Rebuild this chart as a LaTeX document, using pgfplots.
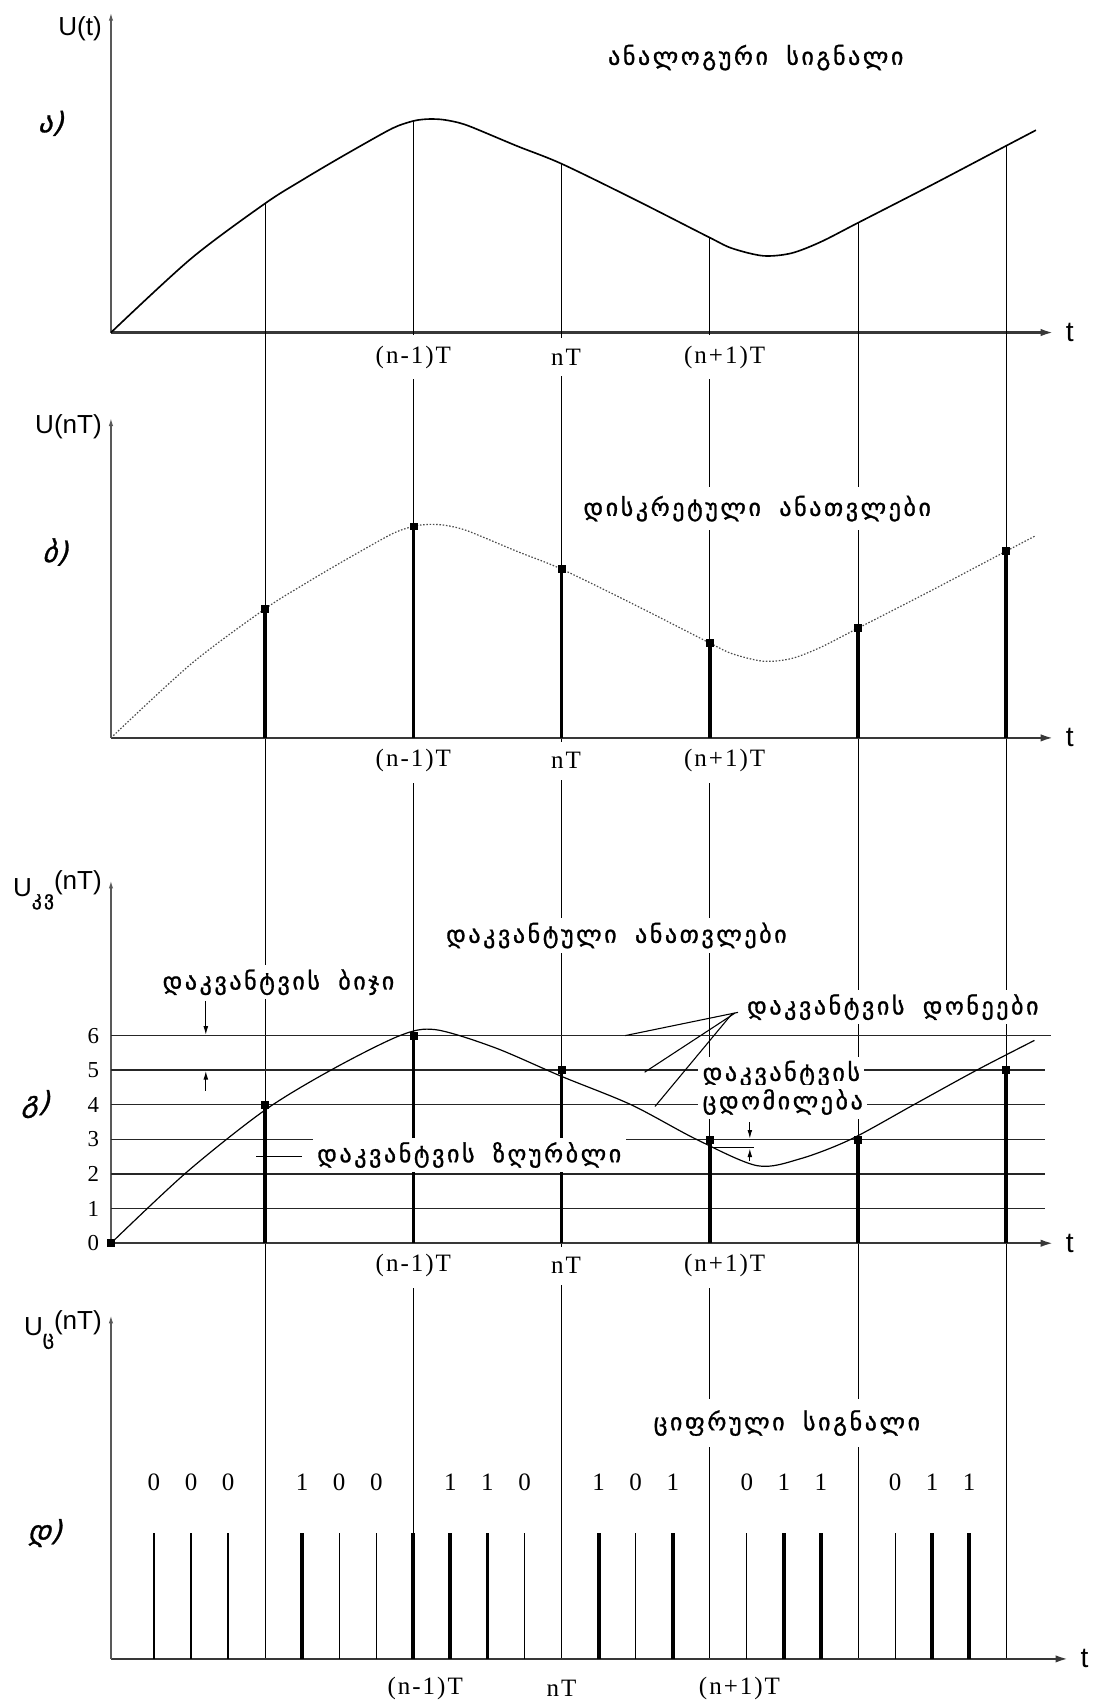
\documentclass[border=0pt]{standalone}
\usepackage{fontspec}
\usepackage{pgfplots}
\pgfplotsset{compat=1.18}
\usetikzlibrary{arrows.meta}
\setmainfont{Liberation Serif}
\newfontfamily\geofam[LetterSpace=11,WordSpace=1.8,FakeBold=1.2]{DejaVu Sans}
\newfontfamily\geoslant[FakeSlant=0.3,FakeBold=1]{DejaVu Sans}
\newfontfamily\sansfam{Liberation Sans}
\newfontfamily\serifsp[LetterSpace=8]{Liberation Serif}
\newcommand\gtext{\geofam\fontsize{11}{13}\selectfont}
\newcommand\gsub{\geofam\fontsize{9}{10}\selectfont}
\newcommand\plabel{\geoslant\fontsize{13}{15}\selectfont}
\newcommand\tlabel{\serifsp\fontsize{11.5}{13}\selectfont}
\newcommand\ulabel{\sansfam\fontsize{12}{14}\selectfont}
\newcommand\tfont{\sansfam\fontsize{13}{15}\selectfont}
\newcommand\digits{\rmfamily\fontsize{10.5}{12}\selectfont}
\newcommand\bits{\rmfamily\fontsize{11.5}{13}\selectfont}

\tikzset{
  sampleline/.style={line width=0.5pt, black},
  gnode/.style={font=\gtext, fill=white, inner sep=2pt},
  tnode/.style={font=\tlabel, fill=white, inner xsep=1pt, inner ysep=5pt},
  arr/.style={line width=0.5pt, -{Latex[length=4pt,width=2.2pt]}},
}
\pgfplotsset{
  panel/.style={
    x=68.2pt, xmin=-0.04, xmax=6.32, ymin=0,
    axis lines*=left, enlargelimits=false, clip=false,
    xtick=\empty, ytick=\empty, anchor=south west,
    x axis line style={line width=1.15pt, draw=black!78, -{Latex[length=6pt,width=3.4pt]}},
    y axis line style={line width=0.75pt, draw=black!65, -{Latex[length=4pt,width=2pt]}},
  },
}

% analog signal U(t), in the drawing's vertical units
\def\analogcurve{
    (-0.04,0) (0.5,68) (1,118.8) (1.25,140.3) (1.5,160.5) (1.8,183.7)
    (1.9,190.4) (2,194.7) (2.06,196.05) (2.12,196.5) (2.2,195.9)
    (2.3,193.3) (2.4,188.7) (2.7,171.6) (3,155.3) (3.5,122)
    (4,87.3) (4.15,77.5) (4.36,70.6) (4.55,73) (4.75,83.5) (5,101)
    (5.5,136) (6,171.9) (6.2,186.2)}

\begin{document}
\begin{tikzpicture}
\useasboundingbox (0,0) rectangle (504.5pt,-784pt);

% ---------------- a) analog signal ----------------
\begin{axis}[panel, y=0.5pt, ymax=295, at={(51.05pt,-153pt)}]
  % sampling instants, carried down through all four panels
  \addplot[sampleline] coordinates {(1,118.8) (1,-1220.5)};
  \addplot[sampleline] coordinates {(2,194.7) (2,-1220.5)};
  \addplot[sampleline] coordinates {(3,155.3) (3,-1220.5)};
  \addplot[sampleline] coordinates {(4,87.3) (4,-1220.5)};
  \addplot[sampleline] coordinates {(5,101) (5,-1220.5)};
  \addplot[sampleline] coordinates {(6,171.9) (6,-1220.5)};
  \addplot[smooth, line width=0.75pt] coordinates {\analogcurve};
  \node[font=\gtext] at (axis cs:4.31,253) {ანალოგური სიგნალი};
  \node[font=\ulabel, anchor=east, inner sep=0pt, xshift=-4pt] at (axis cs:-0.04,280) {U(t)};
  \node[font=\plabel] at (axis cs:-0.45,192.5) {ა)};
  \node[font=\tfont, anchor=west, xshift=2pt] at (axis cs:6.32,0) {t};
  \node[tnode] at (axis cs:2,-22.5) {(n-1)T};
  \node[tnode] at (axis cs:3.03,-22.5) {nT};
  \node[tnode] at (axis cs:4.1,-22.5) {(n+1)T};
\end{axis}

% ---------------- b) discrete samples ----------------
\begin{axis}[panel, y=0.5pt, ymax=295, at={(51.05pt,-339.5pt)}]
  \addplot[smooth, line width=0.55pt, black!70, dash pattern=on 0.7pt off 0.8pt] coordinates {\analogcurve};
  \addplot[ycomb, line width=1.7pt, mark=square*, mark size=1.6pt, mark options={line width=0.3pt}]
    coordinates {(1,118.8) (2,194.7) (3,155.3) (4,87.3) (5,101) (6,171.9)};
  \node[gnode, minimum height=20pt] at (axis cs:4.32,211) {დისკრეტული ანათვლები};
  \node[font=\ulabel, anchor=east, inner sep=0pt, xshift=-4pt] at (axis cs:-0.04,286) {U(nT)};
  \node[font=\plabel] at (axis cs:-0.42,171) {ბ)};
  \node[font=\tfont, anchor=west, xshift=2pt] at (axis cs:6.32,0) {t};
  \node[tnode] at (axis cs:2,-21) {(n-1)T};
  \node[tnode] at (axis cs:3.03,-21) {nT};
  \node[tnode] at (axis cs:4.1,-21) {(n+1)T};
\end{axis}

% ---------------- c) quantized samples ----------------
\begin{axis}[panel, y=15.925pt, ymax=10.5, at={(51.05pt,-572pt)},
    ytick={0,1,2,3,4,5,6}, yticklabels={0,1,2,3,4,5,6}, ytick pos=left,
    major tick length=0pt, yticklabel style={font=\digits, xshift=-2pt}]
  % quantization levels
  \addplot[line width=0.65pt, black!85] coordinates {(-0.04,1) (6.26,1)};
  \addplot[line width=0.65pt, black!85] coordinates {(-0.04,2) (6.26,2)};
  \addplot[line width=0.65pt, black!85] coordinates {(-0.04,3) (6.26,3)};
  \addplot[line width=0.65pt, black!85] coordinates {(-0.04,4) (6.26,4)};
  \addplot[line width=0.65pt, black!85] coordinates {(-0.04,5) (6.26,5)};
  \addplot[line width=0.65pt, black!85] coordinates {(-0.04,6) (6.3,6)};
  \addplot[smooth, line width=0.55pt] coordinates {
    (-0.04,0) (0.47,2.05) (1,3.85) (1.46,5.04) (1.91,6.0) (2.15,6.17)
    (2.55,5.65) (3,4.82) (3.47,4.0) (3.91,3.0) (4.32,2.24) (4.61,2.44)
    (4.95,3.0) (5.375,4.0) (5.8,5.0) (6.19,5.86)};
  \addplot[ycomb, line width=1.7pt, mark=square*, mark size=1.6pt, mark options={line width=0.3pt}]
    coordinates {(1,4) (2,6) (3,5) (4,3) (5,3) (6,5)};
  \addplot[only marks, mark=square*, mark size=1.6pt] coordinates {(-0.04,0)};
  % quantization step
  \addplot[arr] coordinates {(0.6,7.0) (0.6,6.02)};
  \addplot[arr] coordinates {(0.6,4.41) (0.6,4.98)};
  % quantization error
  \addplot[arr] coordinates {(4.27,3.5) (4.27,3.02)};
  \addplot[arr] coordinates {(4.27,2.38) (4.27,2.74)};
  \addplot[line width=0.5pt] coordinates {(4,2.76) (4.3,2.76)};
  % leaders
  \addplot[line width=0.5pt] coordinates {(0.94,2.5) (1.25,2.5)};
  \addplot[line width=0.5pt] coordinates {(4.19,6.67) (3.43,6.0)};
  \addplot[line width=0.5pt] coordinates {(4.17,6.65) (3.56,4.94)};
  \addplot[line width=0.5pt] coordinates {(4.15,6.63) (3.63,3.95)};
  \node[gnode] at (axis cs:3.37,8.89) {დაკვანტული ანათვლები};
  \node[gnode] at (axis cs:1.09,7.54) {დაკვანტვის ბიჯი};
  \node[gnode, anchor=west] at (axis cs:4.22,6.82) {დაკვანტვის დონეები};
  \node[gnode, anchor=west] at (axis cs:3.92,4.9) {დაკვანტვის};
  \node[gnode, anchor=west] at (axis cs:3.92,4.08) {ცდომილება};
  \node[gnode, anchor=west, minimum height=13pt] at (axis cs:1.32,2.55) {დაკვანტვის ზღურბლი};
  \node[font=\ulabel, anchor=east, inner sep=0pt, xshift=-4pt] at (axis cs:-0.04,10.2)
    {U\raisebox{-4pt}{\gsub კვ}\raisebox{3pt}{(nT)}};
  \node[font=\plabel] at (axis cs:-0.55,4.02) {გ)};
  \node[font=\tfont, anchor=west, xshift=2pt] at (axis cs:6.32,0) {t};
  \node[tnode] at (axis cs:2,-0.65) {(n-1)T};
  \node[tnode] at (axis cs:3.03,-0.65) {nT};
  \node[tnode] at (axis cs:4.1,-0.65) {(n+1)T};
\end{axis}

% ---------------- d) digital signal ----------------
\begin{axis}[panel, y=0.5pt, ymax=316.8, xmax=6.42, at={(51.05pt,-763.25pt)}]
  % code bits 0
  \addplot[ycomb, line width=0.55pt] coordinates {
    (0.25,116) (0.5,116) (0.75,116) (1.5,116) (1.75,116) (2.75,116)
    (3.5,116) (4.25,116) (5.25,116)};
  % code bits 1
  \addplot[ycomb, line width=1.8pt] coordinates {
    (1.25,116) (2.25,116) (2.5,116) (3.25,116) (3.75,116) (4.5,116)
    (4.75,116) (5.5,116) (5.75,116)};
  \addplot[ycomb, line width=1.8pt] coordinates {(2,116)};
  \node[font=\bits] at (axis cs:0.25,162.5) {0};
  \node[font=\bits] at (axis cs:0.5,162.5) {0};
  \node[font=\bits] at (axis cs:0.75,162.5) {0};
  \node[font=\bits] at (axis cs:1.25,162.5) {1};
  \node[font=\bits] at (axis cs:1.5,162.5) {0};
  \node[font=\bits] at (axis cs:1.75,162.5) {0};
  \node[font=\bits] at (axis cs:2.25,162.5) {1};
  \node[font=\bits] at (axis cs:2.5,162.5) {1};
  \node[font=\bits] at (axis cs:2.75,162.5) {0};
  \node[font=\bits] at (axis cs:3.25,162.5) {1};
  \node[font=\bits] at (axis cs:3.5,162.5) {0};
  \node[font=\bits] at (axis cs:3.75,162.5) {1};
  \node[font=\bits] at (axis cs:4.25,162.5) {0};
  \node[font=\bits] at (axis cs:4.5,162.5) {1};
  \node[font=\bits] at (axis cs:4.75,162.5) {1};
  \node[font=\bits] at (axis cs:5.25,162.5) {0};
  \node[font=\bits] at (axis cs:5.5,162.5) {1};
  \node[font=\bits] at (axis cs:5.75,162.5) {1};
  \node[gnode, minimum height=22pt] at (axis cs:4.52,217) {ციფრული სიგნალი};
  \node[font=\ulabel, anchor=east, inner sep=0pt, xshift=-4pt] at (axis cs:-0.04,303)
    {U\raisebox{-4pt}{\gsub ც}\raisebox{3pt}{(nT)}};
  \node[font=\plabel] at (axis cs:-0.49,115.8) {დ)};
  \node[font=\tfont, anchor=west, xshift=2pt] at (axis cs:6.42,0) {t};
  \node[tnode] at (axis cs:2.08,-27) {(n-1)T};
  \node[tnode] at (axis cs:3.0,-27) {nT};
  \node[tnode] at (axis cs:4.2,-27) {(n+1)T};
\end{axis}
\end{tikzpicture}
\end{document}
